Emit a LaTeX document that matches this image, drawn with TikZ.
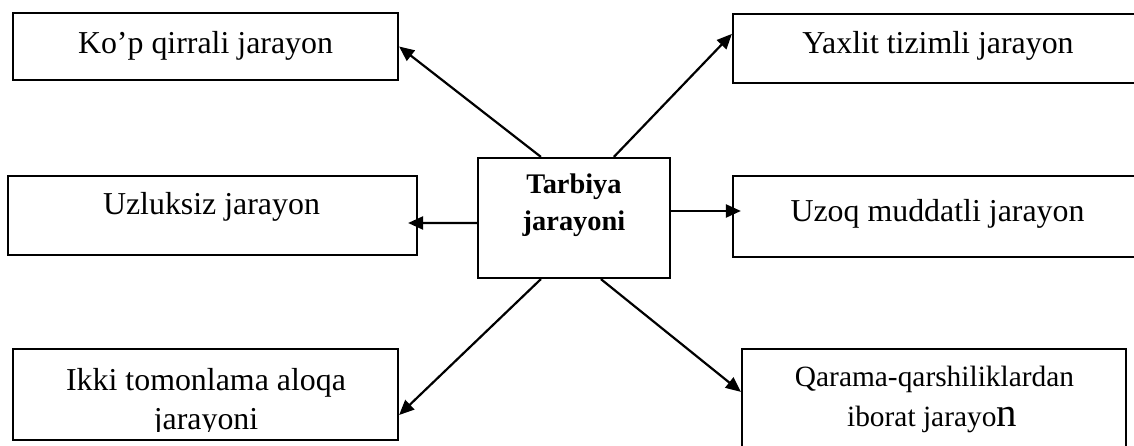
\documentclass[tikz,border=0pt]{standalone}
\usepackage{fontspec}
\setmainfont{Liberation Serif}
\usetikzlibrary{arrows.meta,calc}
\begin{document}
\begin{tikzpicture}[x=1bp,y=-1bp,
  box/.style={draw, line width=2.2bp, inner sep=0pt},
  lbl/.style={anchor=base, inner sep=0pt, font=\fontsize{32}{32}\selectfont},
  slbl/.style={anchor=base, inner sep=0pt, font=\fontsize{29.5}{29.5}\selectfont},
  blbl/.style={anchor=base, inner sep=0pt, font=\fontsize{28.5}{28.5}\selectfont\bfseries},
  arr/.style={line width=2.2bp, -{Triangle[length=15bp,width=13bp]}}]
\useasboundingbox (0,0) rectangle (1134,446);
\clip (0,0) rectangle (1134,446);
% boxes
\node[box, minimum width=192bp, minimum height=120bp] (c) at (574,218) {};
\node[box, minimum width=385bp, minimum height=67bp] (b1) at (205.5,46.5) {};
\node[box, minimum width=410bp, minimum height=69bp] (b2) at (938,48.5) {};
\node[box, minimum width=409bp, minimum height=79bp] (b3) at (212.5,215.5) {};
\node[box, minimum width=410bp, minimum height=81bp] (b4) at (938,216.5) {};
\node[box, minimum width=385bp, minimum height=91bp] (b5) at (205.5,394.5) {};
\node[box, minimum width=384bp, minimum height=121bp] (b6) at (934,409.5) {};
% texts
\node[blbl] (c1) at (574,194) {Tarbiya};
\node[blbl] (c2) at (574,231) {jarayoni};
\node[lbl] (t1) at (205.5,54) {Ko’p qirrali jarayon};
\node[lbl] (t2) at (938,54) {Yaxlit tizimli jarayon};
\node[lbl] (t3) at (211.5,215) {Uzluksiz jarayon};
\node[lbl] (t4) at (937.5,222) {Uzoq muddatli jarayon};
\node[lbl] (t5a) at (206,391) {Ikki tomonlama aloqa};
\begin{scope}
  \clip (13,350) rectangle (398,432);
  \node[lbl] (t5b) at (206,430) {jarayoni};
\end{scope}
\node[slbl] (t6a) at (934.5,387) {Qarama-qarshiliklardan};
\node[slbl] (t6b) at (932,427) {iborat jarayo{\fontsize{41}{41}\selectfont n}};
% arrows
\draw[arr] ($(c.north west)+(64,0)$) -- (b1.east);
\draw[arr] ($(c.north west)+(137,0)$) -- ($(b2.north west)+(0,21)$);
\draw[arr] ($(c.west)+(0,5)$) -- ($(b3.east)+(-10,7.5)$);
\draw[arr] ($(c.east)+(0,-7)$) -- ($(b4.west)+(9,-5.5)$);
\draw[arr] ($(c.south west)+(64,0)$) -- ($(b5.east)+(0,20.5)$);
\draw[arr] ($(c.south west)+(124,0)$) -- ($(b6.north west)+(0,44)$);
\end{tikzpicture}
\end{document}
